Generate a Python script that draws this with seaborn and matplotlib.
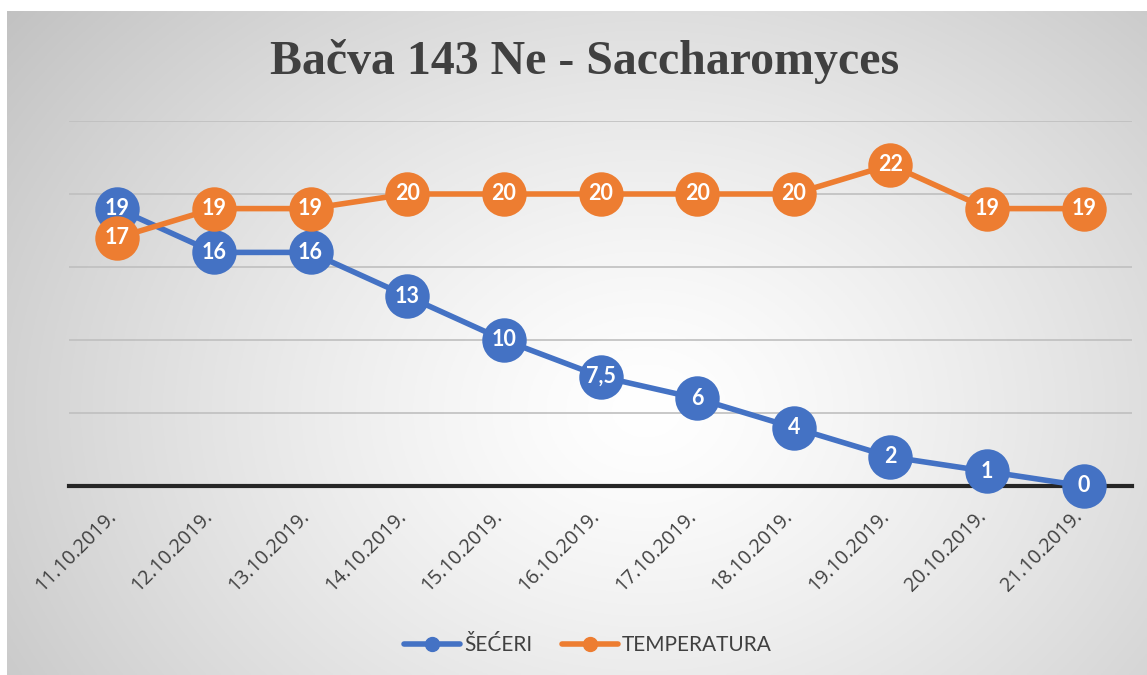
import numpy as np
import pandas as pd
import matplotlib
matplotlib.use("Agg")
import matplotlib.pyplot as plt
import matplotlib.transforms as mtransforms
from matplotlib.lines import Line2D
import seaborn as sns

# ---- data ----
datumi = ["11.10.2019.", "12.10.2019.", "13.10.2019.", "14.10.2019.", "15.10.2019.",
          "16.10.2019.", "17.10.2019.", "18.10.2019.", "19.10.2019.", "20.10.2019.",
          "21.10.2019."]
seceri = [19, 16, 16, 13, 10, 7.5, 6, 4, 2, 1, 0]
temperatura = [17, 19, 19, 20, 20, 20, 20, 20, 22, 19, 19]
naslov = "Bačva 143 Ne - Saccharomyces"
serije = ["ŠEĆERI", "TEMPERATURA"]

BLUE = "#4472C4"
ORANGE = "#ED7D31"
TXT = "#404040"

sns.set_theme(style="white")
plt.rcParams['font.family'] = ['Lato', 'DejaVu Sans']

W, H = 1147, 675
fig = plt.figure(figsize=(W / 100, H / 100), dpi=100)
fig.patch.set_facecolor("white")

# background radial gradient
bg = fig.add_axes([7 / W, 0, 1 - 7 / W, 1 - 11 / H], zorder=-10)
ny, nx = 330, 570
yy, xx = np.mgrid[0:ny, 0:nx]
cx, cy = 0.56 * nx, 0.6 * ny
r = np.sqrt(((xx - cx) / nx) ** 2 + ((yy - cy) / ny) ** 2 * 0.55)
r = r / r.max()
val = 1.0 - 0.24 * np.clip(r, 0, 1) ** 1.3
bg.imshow(np.dstack([val, val, val]), aspect="auto", extent=[0, 1, 0, 1], origin="upper")
bg.set_axis_off()

ax = fig.add_axes([69 / W, 1 - 486 / H, (1132 - 69) / W, (486 - 121) / H])
ax.set_facecolor("none")

df = pd.DataFrame({"datum": datumi, "seceri": seceri, "temperatura": temperatura})
x = np.arange(len(datumi))

for col, color, z in [("seceri", BLUE, 3), ("temperatura", ORANGE, 4)]:
    sns.lineplot(data=df, x="datum", y=col, ax=ax, color=color, linewidth=4,
                 marker="o", markersize=32, markeredgewidth=0, sort=False, zorder=z,
                 clip_on=False)
    for xi, v in zip(x, df[col]):
        lab = ("%g" % v).replace(".", ",")
        ax.text(xi, v, lab, ha="center", va="center", color="white",
                fontsize=15.5, fontweight="bold", zorder=z + 0.5)

ax.set_xlim(-0.5, len(datumi) - 0.5)
ax.set_ylim(0, 25)
ax.set_yticks([0, 5, 10, 15, 20, 25])
ax.set_yticklabels([])
ax.tick_params(axis="y", length=0)
ax.grid(axis="y", color="#bfbfbf", linewidth=1.2)
ax.set_axisbelow(True)
for s in ["top", "right", "left"]:
    ax.spines[s].set_visible(False)
ax.spines["bottom"].set_color("#262626")
ax.spines["bottom"].set_linewidth(3)
ax.spines["bottom"].set_zorder(2)
ax.set_xlabel("")
ax.set_ylabel("")
ax.set_xticks(x)
ax.set_xticklabels(datumi, rotation=45, ha="right", rotation_mode="anchor",
                   fontsize=14.2, color=TXT, family=["Open Sans", "DejaVu Sans"])
ax.tick_params(axis="x", length=0, pad=15)
off = mtransforms.ScaledTranslation(-11 / 100, 0, fig.dpi_scale_trans)
for t in ax.get_xticklabels():
    t.set_transform(t.get_transform() + off)
if ax.get_legend():
    ax.get_legend().remove()

fig.text(585 / W, 1 - 62 / H, naslov, ha="center", va="center", fontsize=34.5,
         fontweight="bold", color=TXT, family=["Liberation Serif", "DejaVu Serif"])

handles = [Line2D([], [], color=BLUE, linewidth=4, marker="o", markersize=10),
           Line2D([], [], color=ORANGE, linewidth=4, marker="o", markersize=10)]
fig.legend(handles, serije, loc="center", bbox_to_anchor=(588 / W, 1 - 645 / H),
           ncol=2, frameon=False, fontsize=15, labelcolor=TXT,
           handlelength=2.7, handletextpad=0.2, columnspacing=1.4)

fig.savefig("out.png", dpi=100)
